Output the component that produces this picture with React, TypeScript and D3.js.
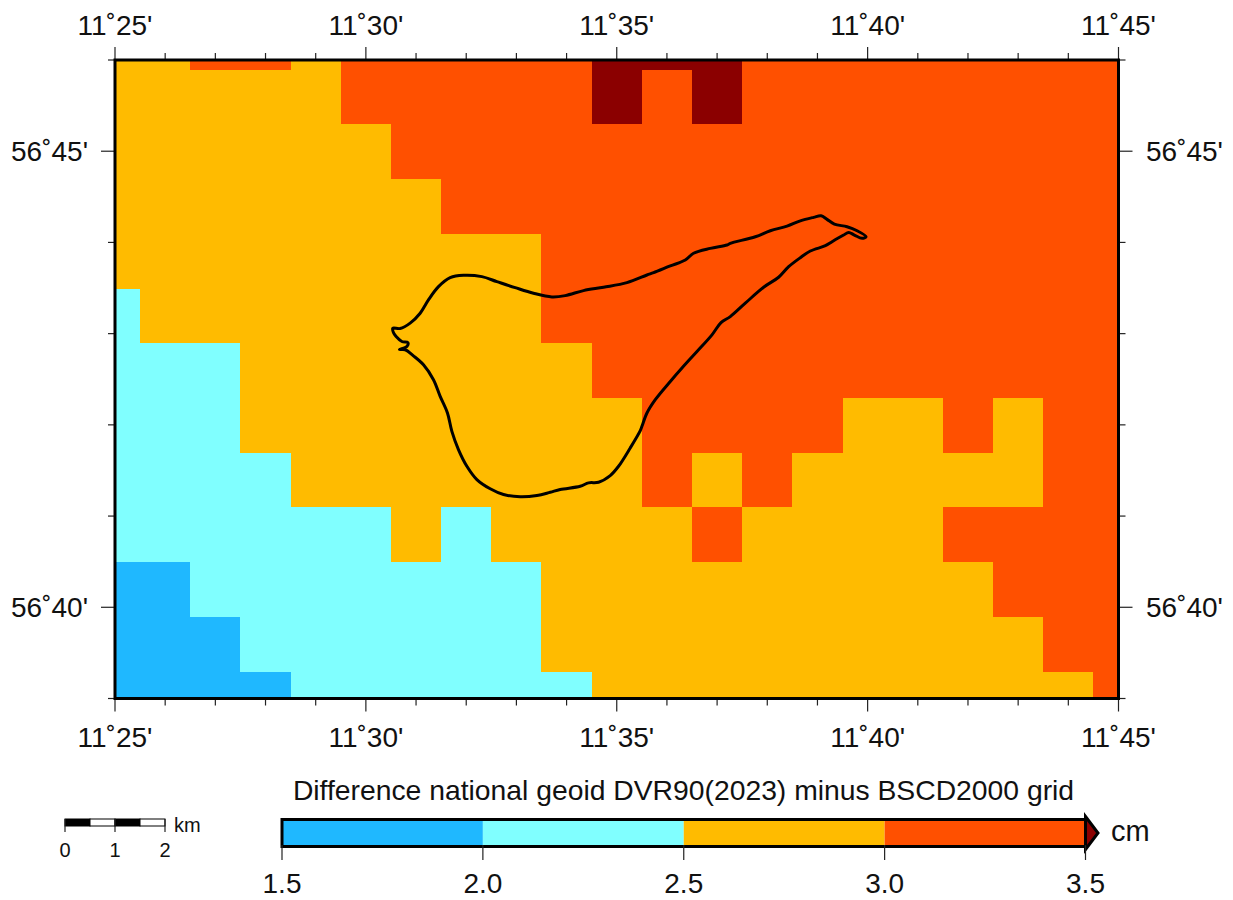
import * as d3 from 'd3';

// longitude and latitude are kept in arc minutes past 11° E and 56° N
const lonMinutes = [25, 26, 27, 28, 29, 30, 31, 32, 33, 34, 35, 36, 37, 38, 39, 40, 41, 42, 43, 44, 45];
const latMinutes = [39, 39.6, 40.2, 40.8, 41.4, 42, 42.6, 43.2, 43.8, 44.4, 45, 45.6, 46.2];

// grid values in cm, one row per latitude (south to north)
const L1 = 1.8;
const L2 = 2.3;
const L3 = 2.8;
const L4 = 3.3;
const L5 = 3.6;
const gridRows = [
  [L1, L1, L1, L1, L2, L2, L2, L2, L2, L2, L3, L3, L3, L3, L3, L3, L3, L3, L3, L3, L4],
  [L1, L1, L1, L2, L2, L2, L2, L2, L2, L3, L3, L3, L3, L3, L3, L3, L3, L3, L3, L4, L4],
  [L1, L1, L2, L2, L2, L2, L2, L2, L2, L3, L3, L3, L3, L3, L3, L3, L3, L3, L4, L4, L4],
  [L2, L2, L2, L2, L2, L2, L3, L2, L3, L3, L3, L3, L4, L3, L3, L3, L3, L4, L4, L4, L4],
  [L2, L2, L2, L2, L3, L3, L3, L3, L3, L3, L3, L4, L3, L4, L3, L3, L3, L3, L3, L4, L4],
  [L2, L2, L2, L3, L3, L3, L3, L3, L3, L3, L3, L4, L4, L4, L4, L3, L3, L4, L3, L4, L4],
  [L2, L2, L2, L3, L3, L3, L3, L3, L3, L3, L4, L4, L4, L4, L4, L4, L4, L4, L4, L4, L4],
  [L2, L3, L3, L3, L3, L3, L3, L3, L3, L4, L4, L4, L4, L4, L4, L4, L4, L4, L4, L4, L4],
  [L3, L3, L3, L3, L3, L3, L3, L3, L3, L4, L4, L4, L4, L4, L4, L4, L4, L4, L4, L4, L4],
  [L3, L3, L3, L3, L3, L3, L3, L4, L4, L4, L4, L4, L4, L4, L4, L4, L4, L4, L4, L4, L4],
  [L3, L3, L3, L3, L3, L3, L4, L4, L4, L4, L4, L4, L4, L4, L4, L4, L4, L4, L4, L4, L4],
  [L3, L3, L3, L3, L3, L4, L4, L4, L4, L4, L5, L4, L5, L4, L4, L4, L4, L4, L4, L4, L4],
  [L3, L3, L4, L4, L3, L4, L4, L4, L4, L4, L5, L5, L5, L4, L4, L4, L4, L4, L4, L4, L4],
];

const bandEdges = [1.5, 2, 2.5, 3, 3.5];
const bandColors = ['#1fb8ff', '#80ffff', '#ffbb00', '#ff5000', '#8b0000'];
const colorbarLabels = ['1.5', '2.0', '2.5', '3.0', '3.5'];

const lonMajor = [25, 30, 35, 40, 45];
const latMajor = [40, 45];
const lonMinor = d3.range(25, 46);
const latMinor = d3.range(39, 47);
const scaleKm = [0, 1, 2];
const scaleKmSegments = [0, 0.5, 1, 1.5];

// island outline as [lon min, lat min]
const coast: [number, number][] = [
  [30.537, 43.06], [30.683, 43.056], [30.882, 43.115], [31.082, 43.224], [31.247, 43.37], [31.447, 43.515],
  [31.68, 43.614], [31.945, 43.64], [32.312, 43.625], [32.611, 43.57], [32.976, 43.504], [33.341, 43.443],
  [33.708, 43.403], [33.973, 43.417], [34.338, 43.472], [34.737, 43.509], [35.203, 43.559], [35.602, 43.643],
  [35.734, 43.668], [36.067, 43.742], [36.366, 43.807], [36.531, 43.881], [36.864, 43.935], [37.198, 43.972],
  [37.263, 43.99], [37.762, 44.062], [38.061, 44.128], [38.394, 44.179], [38.659, 44.237], [38.924, 44.275],
  [39.072, 44.292], [39.191, 44.253], [39.337, 44.201], [39.59, 44.172], [39.79, 44.128], [39.969, 44.062],
  [39.889, 44.045], [39.736, 44.081], [39.622, 44.11], [39.522, 44.081], [39.291, 44.008], [39.158, 43.964],
  [38.858, 43.906], [38.659, 43.833], [38.426, 43.734], [38.226, 43.618], [37.927, 43.509], [37.562, 43.334],
  [37.263, 43.187], [37.078, 43.121], [36.898, 42.987], [36.599, 42.804], [36.3, 42.623], [36.067, 42.476],
  [35.768, 42.276], [35.602, 42.13], [35.502, 41.984], [35.469, 41.937], [35.269, 41.747], [35.036, 41.546],
  [34.87, 41.444], [34.637, 41.371], [34.438, 41.364], [34.272, 41.327], [33.873, 41.291], [33.674, 41.261],
  [33.409, 41.225], [33.076, 41.211], [32.743, 41.236], [32.478, 41.299], [32.212, 41.4], [32.013, 41.546],
  [31.845, 41.729], [31.714, 41.929], [31.626, 42.13], [31.481, 42.312], [31.347, 42.495], [31.148, 42.659],
  [30.948, 42.757], [30.783, 42.823], [30.669, 42.826], [30.817, 42.859], [30.836, 42.903], [30.717, 42.914],
  [30.603, 42.968], [30.549, 43.012],
];

const FONT = '"Liberation Sans", Arial, sans-serif';

const App = () => {
  const frame = { left: 115, right: 1118.5, top: 60, bottom: 698.5 };
  const x = d3.scaleLinear().domain([25, 45]).range([frame.left, frame.right]);
  const y = d3.scaleLinear().domain([39, 46]).range([frame.bottom, frame.top]);
  const color = d3.scaleThreshold<number, string>().domain(bandEdges.slice(1)).range(bandColors);
  const cb = d3.scaleLinear().domain([1.5, 3.5]).range([282, 1085.5]);
  const km = d3.scaleLinear().domain([0, 2]).range([65, 165]);

  const coastPath = d3.line<[number, number]>()
    .x(d => x(d[0]))
    .y(d => y(d[1]))
    .curve(d3.curveCatmullRomClosed.alpha(0.5))(coast) as string;

  const cbTop = 820;
  const cbBottom = 845;
  const cbMid = (cbTop + cbBottom) / 2;

  return (
    <svg width={1233} height={900} style={{ position: 'absolute', left: 0, top: 0 }} fontFamily={FONT} fill="#111">
      <defs>
        <clipPath id="map-clip">
          <rect x={frame.left} y={frame.top} width={frame.right - frame.left} height={frame.bottom - frame.top} />
        </clipPath>
      </defs>

      <g clipPath="url(#map-clip)">
        <g shapeRendering="crispEdges">
          {gridRows.map((row, r) =>
            row.map((v, c) => (
              <rect
                key={`${r}-${c}`}
                x={x(lonMinutes[c] - 0.5)}
                y={y(latMinutes[r] + 0.3)}
                width={x(lonMinutes[c] + 0.5) - x(lonMinutes[c] - 0.5) + 0.5}
                height={y(latMinutes[r] - 0.3) - y(latMinutes[r] + 0.3) + 0.5}
                fill={color(v)}
              />
            ))
          )}
        </g>
        <path d={coastPath} fill="none" stroke="#000" strokeWidth={3} strokeLinejoin="round" />
      </g>

      {/* frame ticks */}
      <g stroke="#222" strokeWidth={1.2}>
        {lonMinor.map(m => {
          const len = lonMajor.includes(m) ? 13 : 7;
          return (
            <g key={m}>
              <line x1={x(m)} x2={x(m)} y1={frame.top} y2={frame.top - len} />
              <line x1={x(m)} x2={x(m)} y1={frame.bottom} y2={frame.bottom + len} />
            </g>
          );
        })}
        {latMinor.map(m => {
          const len = latMajor.includes(m) ? 14 : 7;
          return (
            <g key={m}>
              <line y1={y(m)} y2={y(m)} x1={frame.left} x2={frame.left - len} />
              <line y1={y(m)} y2={y(m)} x1={frame.right} x2={frame.right + len} />
            </g>
          );
        })}
      </g>
      <rect
        x={frame.left}
        y={frame.top}
        width={frame.right - frame.left}
        height={frame.bottom - frame.top}
        fill="none"
        stroke="#000"
        strokeWidth={3}
      />

      {/* graticule labels */}
      <g fontSize={28} textAnchor="middle">
        {lonMajor.map(m => (
          <g key={m}>
            <text x={x(m)} y={34.5}>{`11˚${m}'`}</text>
            <text x={x(m)} y={746.5}>{`11˚${m}'`}</text>
          </g>
        ))}
      </g>
      <g fontSize={28}>
        {latMajor.map(m => (
          <g key={m}>
            <text x={88} y={y(m) + 10} textAnchor="end">{`56˚${m}'`}</text>
            <text x={1146} y={y(m) + 10}>{`56˚${m}'`}</text>
          </g>
        ))}
      </g>

      {/* colour bar */}
      <text x={683.5} y={799.5} fontSize={28.3} textAnchor="middle">
        Difference national geoid DVR90(2023) minus BSCD2000 grid
      </text>
      {bandEdges.slice(0, -1).map((e, i) => (
        <rect key={e} x={cb(e)} y={cbTop} width={cb(bandEdges[i + 1]) - cb(e)} height={cbBottom - cbTop} fill={bandColors[i]} />
      ))}
      <rect x={cb(1.5)} y={cbTop - 0.5} width={cb(3.5) - cb(1.5)} height={cbBottom - cbTop + 2} fill="none" stroke="#000" strokeWidth={3} />
      <path
        d={`M${cb(3.5)},${cbTop - 3.5}L${cb(3.5) + 12.5},${cbMid + 0.5}L${cb(3.5)},${cbBottom + 4.5}Z`}
        fill={bandColors[4]}
        stroke="#000"
        strokeWidth={3}
        strokeLinejoin="miter"
      />
      {bandEdges.map((e, i) => (
        <g key={e}>
          <line x1={cb(e)} x2={cb(e)} y1={cbBottom} y2={860} stroke="#222" strokeWidth={1.2} />
          <text x={cb(e)} y={892.5} fontSize={28} textAnchor="middle">{colorbarLabels[i]}</text>
        </g>
      ))}
      <text x={1111} y={840.5} fontSize={29}>cm</text>

      {/* map scale */}
      {scaleKmSegments.map((s, i) => (
        <rect key={s} x={km(s)} y={819} width={km(s + 0.5) - km(s)} height={7} fill={i % 2 === 0 ? '#000' : '#fff'} stroke="#000" strokeWidth={1} />
      ))}
      {scaleKm.map(k => (
        <g key={k}>
          <line x1={km(k)} x2={km(k)} y1={819} y2={832} stroke="#222" strokeWidth={1.2} />
          <text x={km(k)} y={857} fontSize={20} textAnchor="middle">{k}</text>
        </g>
      ))}
      <text x={174} y={832} fontSize={20}>km</text>
    </svg>
  );
};

export default App;
